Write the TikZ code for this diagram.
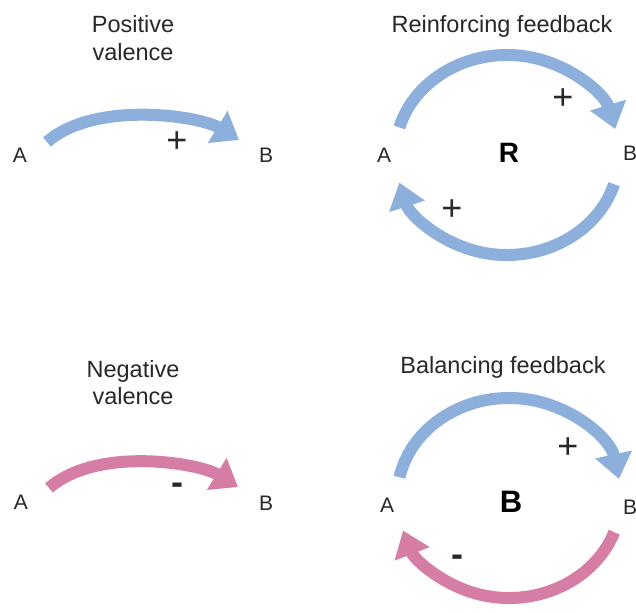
\documentclass[tikz,border=0pt]{standalone}
\usepackage{fontspec}
\setmainfont{Liberation Sans}
\usetikzlibrary{arrows.meta,calc}
\definecolor{loopblue}{RGB}{141,175,220}
\definecolor{looppink}{RGB}{214,125,166}
\definecolor{txt}{RGB}{40,40,40}
\tikzset{
  varlabel/.style={text=txt, inner sep=0pt, font=\fontsize{21}{24}\selectfont},
  titlelabel/.style={text=txt, inner sep=0pt, anchor=base, font=\fontsize{23.5}{28}\selectfont},
  signlabel/.style={text=txt, inner sep=0pt, font=\fontsize{36}{40}\selectfont},
  minuslabel/.style={text=txt, inner sep=0pt, font=\bfseries\fontsize{36}{40}\selectfont},
  looplabel/.style={text=black, inner sep=0pt, font=\bfseries\fontsize{28}{32}\selectfont},
  flowarrow/.style={line width=12pt, line cap=butt, -{Triangle[length=25pt,width=36pt]}},
}
\begin{document}
\begin{tikzpicture}[x=1pt,y=1pt]
\useasboundingbox (0,0) rectangle (636,-612);
\fill[white] (0,0) rectangle (636,-612);

% ---------- Panel 1: positive valence ----------
\node[titlelabel] (t1a) at (133,-33) {Positive};
\node[titlelabel] (t1b) at (133,-61) {valence};
\node[varlabel] (A1) at (20,-155) {A};
\node[varlabel] (B1) at (266,-155) {B};
\coordinate (a1s) at (47,-142);
\coordinate (a1e) at (239,-140);
\draw[flowarrow, loopblue] (a1s) .. controls (95,-100) and (200,-116) .. (a1e);
\node[signlabel] (p1) at (177,-142) {+};

% ---------- Panel 3: negative valence ----------
\node[titlelabel] (t3a) at (133,-377) {Negative};
\node[titlelabel] (t3b) at (133,-404) {valence};
\node[varlabel] (A3) at (21,-502) {A};
\node[varlabel] (B3) at (266,-503) {B};
\coordinate (a3s) at (49,-488);
\coordinate (a3e) at (238,-487);
\draw[flowarrow, looppink] (a3s) .. controls (97,-446) and (199,-463) .. (a3e);
\node[minuslabel] (m3) at (177,-489) {-};

% ---------- Panel 2: reinforcing feedback ----------
\node[titlelabel] (t2) at (502,-33) {Reinforcing feedback};
\node[varlabel] (A2) at (384,-155) {A};
\node[varlabel] (B2) at (630,-153) {B};
\node[looplabel] (R2) at (509,-153) {R};
\coordinate (c2) at (507,-155);
\draw[flowarrow, loopblue] ($(c2)+(164:112 and 100)$) coordinate (u2s)
   arc[start angle=164, end angle=15, x radius=112, y radius=100] coordinate (u2e);
\draw[flowarrow, loopblue] ($(c2)+(-17:112 and 100)$) coordinate (l2s)
   arc[start angle=-17, end angle=-164, x radius=112, y radius=100] coordinate (l2e);
\node[signlabel] (p2a) at (563,-99) {+};
\node[signlabel] (p2b) at (452,-210) {+};

% ---------- Panel 4: balancing feedback ----------
\node[titlelabel] (t4) at (503,-373) {Balancing feedback};
\node[varlabel] (A4) at (387,-505) {A};
\node[varlabel] (B4) at (630,-507) {B};
\node[looplabel, font=\bfseries\fontsize{31}{34}\selectfont] (B4big) at (511,-502) {B};
\coordinate (c4) at (509,-498);
\draw[flowarrow, loopblue] ($(c4)+(168:112 and 100)$) coordinate (u4s)
   arc[start angle=168, end angle=11, x radius=112, y radius=100] coordinate (u4e);
\draw[flowarrow, looppink] ($(c4)+(-20:112 and 100)$) coordinate (l4s)
   arc[start angle=-20, end angle=-161, x radius=112, y radius=100] coordinate (l4e);
\node[signlabel] (p4) at (568,-448) {+};
\node[minuslabel] (m4) at (457,-561) {-};
\end{tikzpicture}
\end{document}
